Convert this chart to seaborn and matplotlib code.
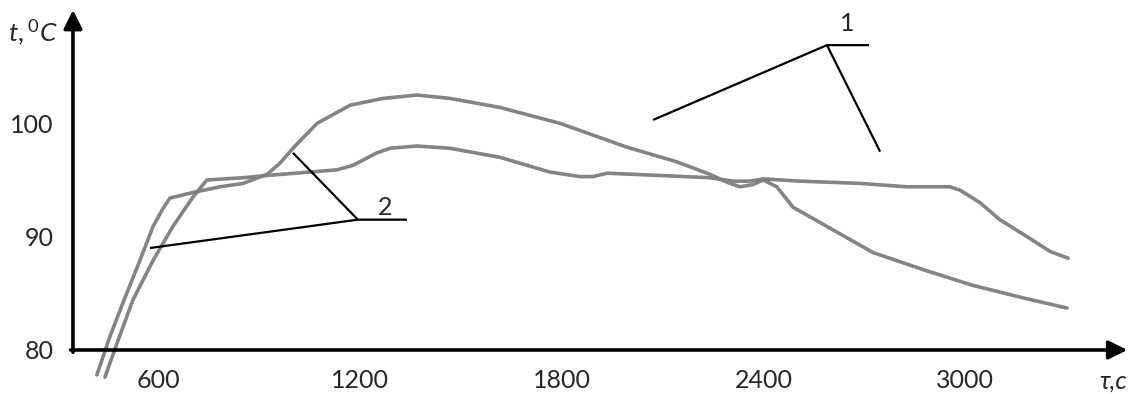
"""
plot.py
-------
Heating curves t(τ) for two runs, redrawn from a scanned figure.
"""

import matplotlib
matplotlib.use("Agg")
import matplotlib.pyplot as plt
import pandas as pd
import seaborn as sns

# ─────────────────────────────────────────────
# 1. DATA
# ─────────────────────────────────────────────

# curve with the high hump (~102.5 °C)
tau_peak = [418, 457, 496, 546, 585, 615, 635, 704, 784, 853, 924, 963, 1001,
            1073, 1171, 1269, 1370, 1468, 1617, 1795, 1994, 2143, 2241, 2292,
            2330, 2369, 2399, 2440, 2488, 2589, 2726, 2874, 3023, 3172, 3303]
temp_peak = [77.8, 81.2, 84.2, 87.9, 90.9, 92.5, 93.4, 93.9, 94.4, 94.7, 95.5,
             96.5, 97.8, 100.0, 101.6, 102.2, 102.5, 102.2, 101.4, 100.0, 97.9,
             96.6, 95.5, 94.8, 94.4, 94.6, 95.0, 94.4, 92.6, 90.9, 88.6, 87.1,
             85.7, 84.6, 83.7]

# curve with the long plateau (~95 °C)
tau_flat = [442, 478, 525, 585, 644, 704, 745, 853, 924, 1052, 1132, 1180,
            1251, 1290, 1370, 1468, 1617, 1765, 1855, 1893, 1935, 2092, 2241,
            2310, 2360, 2399, 2509, 2687, 2827, 2955, 2985, 3044, 3103, 3184,
            3252, 3306]
temp_flat = [77.6, 80.6, 84.4, 87.9, 90.9, 93.5, 95.0, 95.2, 95.4, 95.7, 95.9,
             96.3, 97.4, 97.8, 98.0, 97.8, 97.0, 95.7, 95.3, 95.3, 95.6, 95.4,
             95.2, 94.9, 94.9, 95.1, 94.9, 94.7, 94.4, 94.4, 94.1, 93.0, 91.5,
             90.0, 88.7, 88.1]

x_ticks = [600, 1200, 1800, 2400, 3000]
y_ticks = [80, 90, 100]

# leader lines: (tau, t) vertices, label and its anchor
leader_1_a = [(2072, 100.3), (2589, 106.9), (2714, 106.9)]
leader_1_b = [(2589, 106.9), (2747, 97.5)]
label_1 = ("1", 2649, 108.8)

leader_2_a = [(1001, 97.4), (1194, 91.5), (1340, 91.5)]
leader_2_b = [(1194, 91.5), (576, 89.0)]
label_2 = ("2", 1275, 92.6)

# ─────────────────────────────────────────────
# 2. STYLE
# ─────────────────────────────────────────────

sns.set_theme(style="white")
plt.rcParams["font.family"] = ["Lato", "DejaVu Sans"]
plt.rcParams["mathtext.fontset"] = "custom"
plt.rcParams["mathtext.it"] = "Lato:italic"
plt.rcParams["mathtext.rm"] = "Lato"

CURVE = "#7d7d7d"
FS = 18

# ─────────────────────────────────────────────
# 3. FIGURE
# ─────────────────────────────────────────────

fig = plt.figure(figsize=(11.35, 3.94), dpi=100)
ax = fig.add_axes([0.0643, 0.1117, 0.9283, 0.8629])
ax.set_xlim(347, 3480)
ax.set_ylim(80, 110)

df = pd.concat([
    pd.DataFrame({"tau": tau_peak, "t": temp_peak, "run": "peak"}),
    pd.DataFrame({"tau": tau_flat, "t": temp_flat, "run": "flat"}),
])
for run, part in df.groupby("run"):
    sns.lineplot(data=part, x="tau", y="t", ax=ax, color=CURVE, lw=2.6,
                 sort=False, estimator=None, clip_on=False, alpha=0.95,
                 solid_joinstyle="round", solid_capstyle="round")

# leader lines
for pts in [leader_1_a, leader_1_b, leader_2_a, leader_2_b]:
    xs, ys = zip(*pts)
    ax.plot(xs, ys, color="black", lw=1.6, solid_capstyle="butt")
for txt, x, y in [label_1, label_2]:
    ax.text(x, y, txt, fontsize=FS, ha="center", va="center")

# axes drawn as arrows
for sp in ax.spines.values():
    sp.set_visible(False)
arrow = dict(arrowstyle="-|>", color="black", lw=2.6, mutation_scale=28,
             shrinkA=0, shrinkB=0)
ax.annotate("", xy=(3482, 80), xytext=(340, 80), arrowprops=arrow,
            annotation_clip=False)
ax.annotate("", xy=(347, 110), xytext=(347, 79.8), arrowprops=arrow,
            annotation_clip=False)

ax.set_xticks(x_ticks)
ax.set_yticks(y_ticks)
ax.set_xticklabels([str(v) for v in x_ticks], fontsize=FS)
ax.set_yticklabels([str(v) for v in y_ticks], fontsize=FS)
ax.tick_params(axis="x", length=0, pad=14)
ax.tick_params(axis="y", length=0, pad=14)
ax.set_xlabel("")
ax.set_ylabel("")

ax.text(228, 108.1, r"$t,^{0}C$", fontsize=FS + 1, ha="center", va="center",
        clip_on=False)
ax.text(3439, 77.3, "τ,c", fontsize=FS, style="italic", ha="center",
        va="center", clip_on=False)

fig.savefig("out.png", dpi=100)
